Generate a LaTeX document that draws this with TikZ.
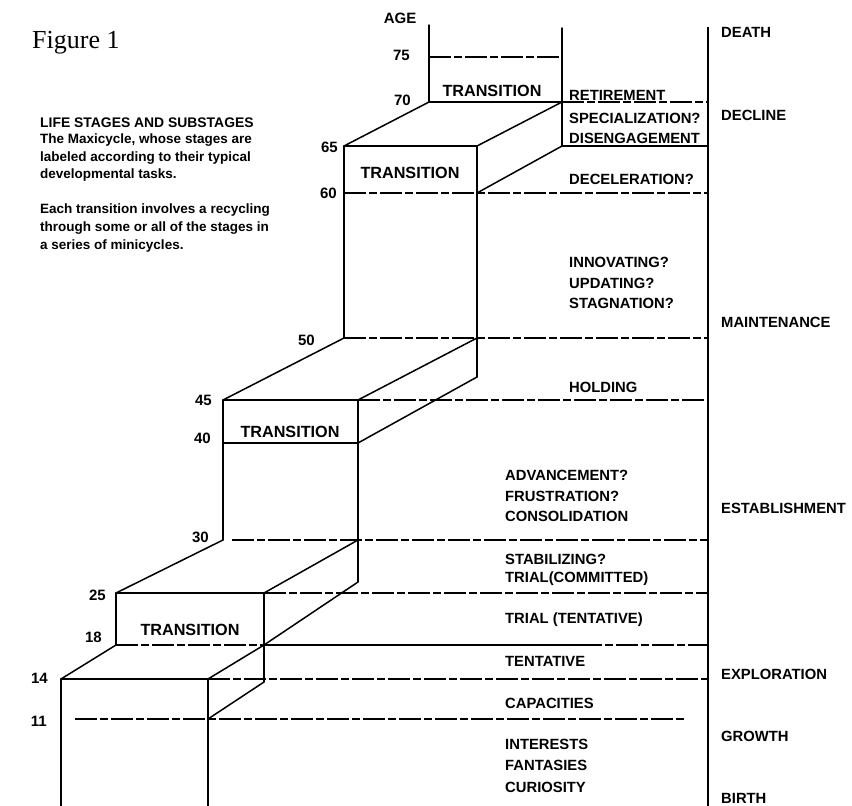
\documentclass[tikz,border=0pt]{standalone}
\usepackage{fontspec}
\setmainfont{Liberation Sans}
\newfontfamily\figfont{Liberation Serif}
\begin{document}
\begin{tikzpicture}[x=1pt,y=-1pt,
  edge/.style={line width=1.5pt, line cap=round, line join=round},
  guide/.style={line width=1.1pt, dash pattern=on 22pt off 3pt on 8pt off 3pt},
  axisline/.style={line width=2.4pt},
  lab/.style={inner sep=0pt, anchor=west, font=\fontsize{14.8}{16}\selectfont\bfseries},
  num/.style={inner sep=0pt, anchor=east, font=\fontsize{15}{16}\selectfont\bfseries},
  trans/.style={inner sep=0pt, font=\fontsize{16.2}{17}\selectfont\bfseries},
  note/.style={inner sep=0pt, anchor=west, font=\fontsize{13.5}{15}\selectfont\bfseries}]
\useasboundingbox (0,0) rectangle (852,806);

% main axis
\draw[axisline] (708,27) -- (708,806);

% ---- guide lines (dashed extensions) ----
\draw[guide] (429,57) -- (562,57);
\draw[guide] (562,102) -- (708,102);
\draw[edge,line width=1.2pt] (562,146) -- (708,146);
\draw[guide] (344,193) -- (708,193);
\draw[guide] (344,338) -- (708,338);
\draw[guide] (358,400) -- (708,400);
\draw[guide] (232,540) -- (708,540);
\draw[guide] (264,593) -- (708,593);
\draw[guide] (116,645) -- (264,645);
\draw[edge,line width=1.2pt] (264,645) -- (580,645);
\draw[guide] (580,645) -- (708,645);
\draw[guide] (208,679) -- (708,679);
\draw[guide] (75,719) -- (684,719);

% ---- top box 70-75 ----
\draw[edge] (429,25) -- (429,102) -- (562,102);
\draw[edge] (562,28) -- (562,146);
% ---- box 50-65 ----
\draw[edge] (344,338) -- (344,146) -- (477,146) -- (477,377);
\draw[edge] (344,146) -- (429,102);
\draw[edge] (477,146) -- (562,102);
\draw[edge] (477,193) -- (562,146);
% ---- box 30-45 ----
\draw[edge] (223,540) -- (223,400) -- (358,400) -- (358,582);
\draw[edge] (223,443) -- (358,443);
\draw[edge] (223,400) -- (344,338);
\draw[edge] (358,400) -- (477,338);
\draw[edge] (358,443) -- (477,377);
% ---- box 18-25 ----
\draw[edge] (116,645) -- (116,593) -- (264,593) -- (264,682);
\draw[edge] (116,593) -- (223,540);
\draw[edge] (264,593) -- (358,540);
\draw[edge] (264,645) -- (358,582);
% ---- box 0-14 ----
\draw[edge] (61,806) -- (61,679) -- (208,679) -- (208,806);
\draw[edge] (61,679) -- (116,645);
\draw[edge] (208,679) -- (264,645);
\draw[edge] (208,719) -- (264,682);

% ---- transition labels ----
\node[trans] (t1) at (492,91) {TRANSITION};
\node[trans] (t2) at (410,173) {TRANSITION};
\node[trans] (t3) at (290,432) {TRANSITION};
\node[trans] (t4) at (190,630) {TRANSITION};

% ---- ages ----
\node[num, anchor=center] (age) at (400,18) {AGE};
\node[num] (a75) at (410,55) {75};
\node[num] (a70) at (411,100) {70};
\node[num] (a65) at (338,147) {65};
\node[num] (a60) at (337,193) {60};
\node[num] (a50) at (315,340) {50};
\node[num] (a45) at (212,400) {45};
\node[num] (a40) at (211,438) {40};
\node[num] (a30) at (209,537) {30};
\node[num] (a25) at (106,595) {25};
\node[num] (a18) at (102,637) {18};
\node[num] (a14) at (48,678) {14};
\node[num] (a11) at (47,721) {11};

% ---- substages ----
\node[lab] (s1) at (569,95) {RETIREMENT};
\node[lab] (s2) at (569,118) {SPECIALIZATION?};
\node[lab] (s3) at (569,138) {DISENGAGEMENT};
\node[lab] (s4) at (569,179) {DECELERATION?};
\node[lab] (s5) at (569,262) {INNOVATING?};
\node[lab] (s6) at (569,283) {UPDATING?};
\node[lab] (s7) at (569,303) {STAGNATION?};
\node[lab] (s8) at (569,387) {HOLDING};
\node[lab] (s9) at (505,475) {ADVANCEMENT?};
\node[lab] (s10) at (505,496) {FRUSTRATION?};
\node[lab] (s11) at (505,516) {CONSOLIDATION};
\node[lab] (s12) at (505,559) {STABILIZING?};
\node[lab] (s13) at (505,579) {TRIAL(COMMITTED)};
\node[lab] (s14) at (505,620) {TRIAL (TENTATIVE)};
\node[lab] (s15) at (505,661) {TENTATIVE};
\node[lab] (s16) at (505,703) {CAPACITIES};
\node[lab] (s17) at (505,744) {INTERESTS};
\node[lab] (s18) at (505,765) {FANTASIES};
\node[lab] (s19) at (505,787) {CURIOSITY};

% ---- stages ----
\node[lab] (g1) at (721,32) {DEATH};
\node[lab] (g2) at (721,115) {DECLINE};
\node[lab] (g3) at (721,322) {MAINTENANCE};
\node[lab] (g4) at (721,508) {ESTABLISHMENT};
\node[lab] (g5) at (721,674) {EXPLORATION};
\node[lab] (g6) at (721,736) {GROWTH};
\node[lab] (g7) at (721,798) {BIRTH};

% ---- captions ----
\node[inner sep=0pt, anchor=base west, font=\figfont\fontsize{26}{28}\selectfont] (fig) at (32,48) {Figure 1};
\node[note, font=\fontsize{13.9}{15}\selectfont\bfseries] (n1) at (40,123) {LIFE STAGES AND SUBSTAGES};
\node[note] (n2) at (40,140) {The Maxicycle, whose stages are};
\node[note] (n3) at (40,158) {labeled according to their typical};
\node[note] (n4) at (40,175) {developmental tasks.};
\node[note] (n5) at (40,210) {Each transition involves a recycling};
\node[note] (n6) at (40,228) {through some or all of the stages in};
\node[note] (n7) at (40,246) {a series of minicycles.};
\end{tikzpicture}
\end{document}
